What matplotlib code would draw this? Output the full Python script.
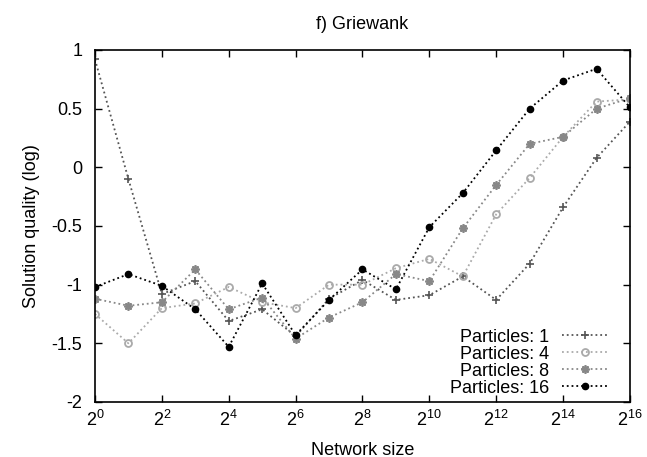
import numpy as np
import matplotlib
matplotlib.use("Agg")
import matplotlib.pyplot as plt

plt.rcParams['font.family'] = ['Liberation Sans', 'DejaVu Sans']
plt.rcParams['mathtext.fontset'] = 'custom'
plt.rcParams['mathtext.rm'] = 'Liberation Sans'
plt.rcParams['mathtext.it'] = 'Liberation Sans'

# network size exponents (2^k)
exponents = list(range(17))

# solution quality (log) per swarm size
p1 = [0.92, -0.10, -1.08, -0.97, -1.31, -1.21, -1.44, -1.12, -0.96, -1.13,
      -1.09, -0.93, -1.13, -0.82, -0.34, 0.08, 0.39]
p4 = [-1.25, -1.50, -1.20, -1.16, -1.02, -1.15, -1.20, -1.00, -1.00, -0.86,
      -0.78, -0.93, -0.40, -0.09, 0.26, 0.56, 0.58]
p8 = [-1.12, -1.18, -1.15, -0.87, -1.21, -1.11, -1.46, -1.28, -1.15, -0.91,
      -0.97, -0.52, -0.15, 0.20, 0.26, 0.50, 0.59]
p16 = [-1.02, -0.91, -1.01, -1.21, -1.53, -0.99, -1.43, -1.13, -0.87, -1.04,
       -0.51, -0.22, 0.145, 0.50, 0.74, 0.84, 0.51]

labels = ['Particles: 1', 'Particles: 4', 'Particles: 8', 'Particles: 16']
colors = ['#555555', '#aaaaaa', '#888888', '#000000']
fs = 13

fig = plt.figure(figsize=(6.47, 4.57), dpi=100)
ax = fig.add_axes([0.1468, 0.1204, 0.8269, 0.7702])

x = np.power(2.0, exponents)
ax.plot(x, p1, ':', color=colors[0], lw=1.3, marker='+', ms=6, mew=1.2, label=labels[0])
ax.plot(x, p4, ':', color=colors[1], lw=1.3, marker='o', ms=5, mfc='none', mew=1.3, label=labels[1])
ax.plot(x, p8, ':', color=colors[2], lw=1.3, marker=(8, 2, 0), ms=6, mew=1.3, label=labels[2])
ax.plot(x, p16, ':', color=colors[3], lw=1.3, marker='o', ms=4.5, label=labels[3])

ax.set_xscale('log', base=2)
ax.set_xlim(1, 2**16)
ax.set_ylim(-2, 1)
ax.set_xticks([2**k for k in range(0, 17, 2)])
ax.set_xticklabels(['$2^{%d}$' % k for k in range(0, 17, 2)])
ax.minorticks_off()
ax.set_yticks([-2, -1.5, -1, -0.5, 0, 0.5, 1])
ax.set_yticklabels(['-2', '-1.5', '-1', '-0.5', '0', '0.5', '1'])
ax.tick_params(direction='in', top=True, right=True, labelsize=fs, length=5, width=1)
ax.tick_params(axis='y', pad=9)
ax.tick_params(axis='x', pad=6)
for s in ax.spines.values():
    s.set_linewidth(1.2)

ax.set_xlabel('Network size', fontsize=fs, labelpad=8)
ax.set_ylabel('Solution quality (log)', fontsize=fs, labelpad=8)
ax.set_title('f) Griewank', fontsize=fs, pad=15)

ax.legend(loc='lower right', bbox_to_anchor=(0.970, 0.0), frameon=False,
          markerfirst=False, fontsize=fs, handlelength=2.6, labelspacing=0.0,
          borderaxespad=0, borderpad=0.3, handletextpad=0.7)

fig.savefig('out.png', dpi=100)
